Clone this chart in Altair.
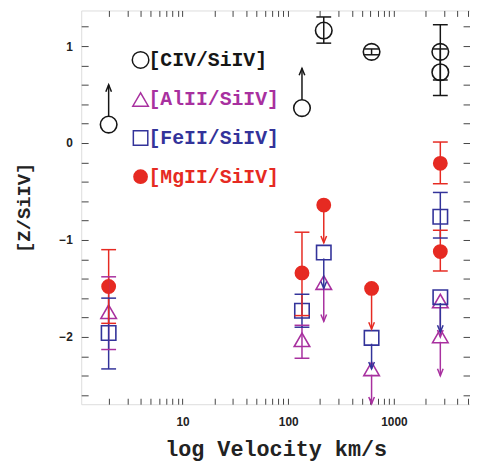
import altair as alt
import pandas as pd

series = ["[CIV/SiIV]", "[AlII/SiIV]", "[FeII/SiIV]", "[MgII/SiIV]"]
colors = ["#161616", "#a8309f", "#33339a", "#e62a22"]
shapes = ["circle", "triangle-up", "square", "circle"]
fills = ["transparent", "transparent", "transparent", "#e62a22"]
sizes = [280, 180, 140, 270]

# velocity (km/s), [Z/SiIV], error low/high, limit arrow end
civ_v = [2, 135, 217, 615, 2750, 2750]
civ_z = [0.19, 0.36, 1.16, 0.94, 0.94, 0.73]
civ_lo = [None, None, 1.03, 0.91, 0.65, 0.49]
civ_hi = [None, None, 1.30, 0.97, 1.22, 0.97]
civ_end = [0.60, 0.77, None, None, None, None]

al_v = [2, 135, 217, 615, 2750, 2750]
al_z = [-1.74, -2.03, -1.44, -2.33, -1.63, -1.99]
al_lo = [-2.13, -2.22, None, None, None, None]
al_hi = [-1.38, -1.88, None, None, None, None]
al_end = [None, None, -1.84, -2.69, -2.00, -2.40]

fe_v = [2, 135, 217, 615, 2750, 2750]
fe_z = [-1.96, -1.73, -1.13, -2.01, -0.76, -1.59]
fe_lo = [-2.33, -1.90, None, None, -0.98, None]
fe_hi = [-1.60, -1.56, None, None, -0.51, None]
fe_end = [None, None, -1.50, -2.33, None, -1.95]

mg_v = [2, 135, 217, 615, 2750, 2750]
mg_z = [-1.48, -1.34, -0.64, -1.50, -0.21, -1.12]
mg_lo = [-1.86, -1.78, None, None, -0.42, -1.32]
mg_hi = [-1.10, -0.92, None, None, 0.01, -0.90]
mg_end = [None, None, -1.03, -1.92, None, None]

x_ticks = [2, 3, 4, 5, 6, 7, 8, 9, 10, 20, 30, 40, 50, 60, 70, 80, 90,
           100, 200, 300, 400, 500, 600, 700, 800, 900, 1000, 2000, 3000, 4000, 5000]
x_labels = [10, 100, 1000]
y_ticks = [round(-2.6 + 0.2 * i, 1) for i in range(20)]

rows = []
for name, v, z, lo, hi, end in [
    (series[0], civ_v, civ_z, civ_lo, civ_hi, civ_end),
    (series[1], al_v, al_z, al_lo, al_hi, al_end),
    (series[2], fe_v, fe_z, fe_lo, fe_hi, fe_end),
    (series[3], mg_v, mg_z, mg_lo, mg_hi, mg_end),
]:
    for i in range(len(v)):
        d = None
        if end[i] is not None:
            d = "up" if end[i] > z[i] else "down"
        rows.append(dict(series=name, v=v[i], z=z[i], lo=lo[i], hi=hi[i], end=end[i], dir=d))
df = pd.DataFrame(rows)

XDOM = [1.1, 5250]
YDOM = [-2.694, 1.367]
MONO = "Liberation Mono"

xscale = alt.Scale(type="log", domain=XDOM, nice=False)
yscale = alt.Scale(domain=YDOM, nice=False, zero=False)
cscale = alt.Scale(domain=series, range=colors)

lab_cond = "indexof(" + str(x_labels) + ", datum.value) >= 0 ? datum.label : ''"
y_lab = "abs(datum.value - round(datum.value)) < 0.01 ? format(round(datum.value), 'd') : ''"

x_axis = alt.Axis(
    values=x_ticks, format="d", labelExpr=lab_cond, title="log Velocity km/s",
    orient="bottom", offset=-6, tickSize=6, domain=False, grid=False,
    labelPadding=13, labelFont="Liberation Sans", labelFontWeight="bold", labelFontSize=12,
    titleFont=MONO, titleFontSize=22, titleFontWeight="bold", titlePadding=11,
    tickColor="#444", labelColor="#222", titleColor="#222")
y_axis = alt.Axis(
    values=y_ticks, labelExpr=y_lab, title="[Z/SiIV]", orient="left",
    offset=-7, tickSize=7, domain=False, grid=False, labelPadding=9,
    labelFont="Liberation Sans", labelFontWeight="bold", labelFontSize=12,
    titleFont=MONO, titleFontSize=19, titleFontWeight="bold", titlePadding=26,
    tickColor="#444", labelColor="#222", titleColor="#222")

label_color = " : ".join(
    f"datum.value == '{s}' ? '{c}'" for s, c in zip(series, colors)) + " : 'black'"
symbol_fill = " : ".join(
    f"datum.value == '{s}' ? '{f}'" for s, f in zip(series, fills)) + " : 'transparent'"
legend = alt.Legend(
    title=None, orient="none", legendX=50, legendY=40, padding=0,
    labelFont=MONO, labelFontSize=20, labelFontWeight="bold", labelColor={"expr": label_color},
    symbolSize=170, symbolStrokeWidth=1.5, symbolFillColor={"expr": symbol_fill},
    rowPadding=18, labelOffset={"expr": "-2"})
col = alt.Color("series:N", scale=cscale, legend=legend)

X = alt.X("v:Q", scale=xscale, axis=x_axis)
base = alt.Chart(df)

pts = base.mark_point(filled=False, strokeWidth=1.6, opacity=1).encode(
    x=X,
    y=alt.Y("z:Q", scale=yscale, axis=y_axis),
    color=col,
    shape=alt.Shape("series:N", scale=alt.Scale(domain=series, range=shapes), legend=legend),
    fill=alt.Fill("series:N", scale=alt.Scale(domain=series, range=fills), legend=legend),
    size=alt.Size("series:N", scale=alt.Scale(domain=series, range=sizes), legend=None),
)
err = base.transform_filter("isValid(datum.lo)").mark_rule(strokeWidth=1.5).encode(
    x=X, y=alt.Y("lo:Q", scale=yscale, axis=y_axis), y2="hi:Q", color=col)
CAP = "M -1 0 L 1 0"
cap_lo = base.transform_filter("isValid(datum.lo)").mark_point(
    shape=CAP, size=225, filled=False, strokeWidth=1.5, opacity=1).encode(
    x=X, y=alt.Y("lo:Q", scale=yscale, axis=y_axis), color=col)
cap_hi = base.transform_filter("isValid(datum.hi)").mark_point(
    shape=CAP, size=225, filled=False, strokeWidth=1.5, opacity=1).encode(
    x=X, y=alt.Y("hi:Q", scale=yscale, axis=y_axis), color=col)
# arrow shafts start at the marker's edge
shaft = base.transform_filter("isValid(datum.end)").transform_calculate(
    start="datum.z + (datum.dir == 'up' ? 1 : -1) * (datum.series == '[CIV/SiIV]' ? 0.085 : 0.06)"
).mark_rule(strokeWidth=1.5).encode(
    x=X, y=alt.Y("start:Q", scale=yscale, axis=y_axis), y2="end:Q", color=col)
head_up = base.transform_filter("datum.dir == 'up'").mark_point(
    shape="M -0.45 1.1 L 0 0 L 0.45 1.1", filled=False, size=160, strokeWidth=1.5, opacity=1
).encode(x=X, y=alt.Y("end:Q", scale=yscale, axis=y_axis), color=col)
head_dn = base.transform_filter("datum.dir == 'down'").mark_point(
    shape="M -0.45 -1.1 L 0 0 L 0.45 -1.1", filled=False, size=160, strokeWidth=1.5, opacity=1
).encode(x=X, y=alt.Y("end:Q", scale=yscale, axis=y_axis), color=col)

data_layer = alt.layer(pts, err, cap_lo, cap_hi, shaft, head_up, head_dn)

# mirrored ticks on top and right
mirror = alt.Chart(df).mark_point(opacity=0).encode(
    x=alt.X("v:Q", scale=xscale, axis=alt.Axis(
        values=x_ticks, orient="top", labels=False, title=None, offset=-6, tickSize=6,
        domain=False, grid=False, tickColor="#444")),
    y=alt.Y("z:Q", scale=yscale, axis=alt.Axis(
        values=y_ticks, orient="right", labels=False, title=None, offset=-7, tickSize=7,
        domain=False, grid=False, tickColor="#444")),
)

chart = alt.layer(data_layer, mirror).resolve_axis(
    x="independent", y="independent"
).properties(
    width=393, height=398,
    autosize=alt.AutoSizeParams(type="none"),
    padding={"left": 74, "top": 0, "right": 0, "bottom": 63},
).configure_view(stroke="#333", strokeWidth=1.5).configure_axis(grid=False).configure(background="white")

chart.save("out.html", embed_options={"renderer": "svg", "actions": False})
